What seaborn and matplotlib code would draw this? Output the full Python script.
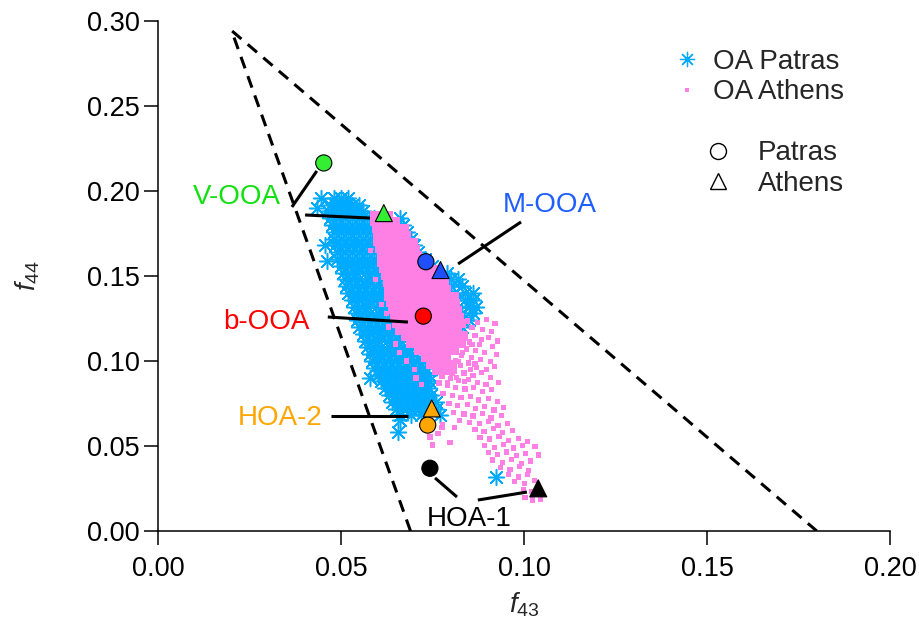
import numpy as np
import pandas as pd
import matplotlib
matplotlib.use("Agg")
import matplotlib.pyplot as plt
from matplotlib.lines import Line2D
from matplotlib.ticker import FormatStrFormatter, MultipleLocator
import seaborn as sns

# ---------------- data ----------------
# OA Patras (blue asterisks): f44 levels and the f43 values on each level
patras_levels = [0.196, 0.192, 0.188, 0.184, 0.180, 0.176, 0.172, 0.168, 0.164, 0.160,
                 0.156, 0.152, 0.148, 0.144, 0.140, 0.136, 0.132, 0.128, 0.124, 0.120,
                 0.116, 0.112, 0.108, 0.104, 0.100, 0.096, 0.092, 0.088, 0.084, 0.080,
                 0.076, 0.072, 0.068]
patras_f43_by_level = [
    [0.0445, 0.048, 0.050, 0.052],
    [0.047, 0.049, 0.051, 0.053, 0.055],
    [0.0465, 0.048, 0.050, 0.052, 0.054, 0.056],
    [0.047, 0.049, 0.051, 0.053, 0.055, 0.057, 0.059, 0.062, 0.066],
    [0.0475, 0.049, 0.051, 0.053, 0.055, 0.057, 0.059, 0.062, 0.065, 0.067],
    [0.048, 0.050, 0.052, 0.054, 0.056, 0.058, 0.061, 0.065, 0.068],
    [0.048, 0.050, 0.052, 0.054, 0.056, 0.058, 0.061, 0.065, 0.069],
    [0.0485, 0.0505, 0.0525, 0.0545, 0.0565, 0.0585, 0.062, 0.066, 0.070],
    [0.049, 0.051, 0.053, 0.055, 0.057, 0.059, 0.063, 0.067, 0.071],
    [0.049, 0.051, 0.053, 0.055, 0.057, 0.059, 0.063, 0.068, 0.073],
    [0.050, 0.052, 0.054, 0.056, 0.058, 0.060, 0.064, 0.069, 0.075],
    [0.0505, 0.0525, 0.0545, 0.0565, 0.0585, 0.0605, 0.065, 0.070, 0.075, 0.079],
    [0.051, 0.053, 0.055, 0.057, 0.059, 0.061, 0.066, 0.071, 0.076, 0.080, 0.082],
    [0.0515, 0.0535, 0.0555, 0.0575, 0.0595, 0.0615, 0.066, 0.071, 0.076, 0.080, 0.083],
    [0.052, 0.054, 0.056, 0.058, 0.060, 0.062, 0.067, 0.072, 0.077, 0.081, 0.084, 0.086],
    [0.053, 0.055, 0.057, 0.059, 0.061, 0.063, 0.067, 0.072, 0.077, 0.081, 0.084, 0.086],
    [0.0535, 0.0555, 0.0575, 0.0595, 0.0615, 0.0635, 0.068, 0.073, 0.078, 0.082, 0.085, 0.087],
    [0.054, 0.056, 0.058, 0.060, 0.062, 0.064, 0.069, 0.074, 0.079, 0.083, 0.086],
    [0.0545, 0.0565, 0.0585, 0.0605, 0.0625, 0.0645, 0.069, 0.074, 0.079, 0.083, 0.085],
    [0.055, 0.057, 0.059, 0.061, 0.063, 0.065, 0.070, 0.075, 0.080, 0.083],
    [0.056, 0.058, 0.060, 0.062, 0.064, 0.066, 0.071, 0.076, 0.080],
    [0.0565, 0.0585, 0.0605, 0.0625, 0.0645, 0.0665, 0.0685, 0.072, 0.077],
    [0.057, 0.059, 0.061, 0.063, 0.065, 0.067, 0.069, 0.073, 0.077],
    [0.058, 0.060, 0.062, 0.064, 0.066, 0.068, 0.070, 0.074],
    [0.0585, 0.0605, 0.0625, 0.0645, 0.0665, 0.0685, 0.0705, 0.0725],
    [0.059, 0.061, 0.063, 0.065, 0.067, 0.069, 0.071, 0.073],
    [0.060, 0.062, 0.064, 0.066, 0.068, 0.070, 0.072, 0.074],
    [0.061, 0.063, 0.065, 0.067, 0.069, 0.071, 0.073, 0.074],
    [0.062, 0.064, 0.066, 0.068, 0.070, 0.072, 0.074],
    [0.063, 0.065, 0.067, 0.069, 0.071, 0.073, 0.0745],
    [0.064, 0.066, 0.068, 0.070, 0.072, 0.074, 0.076],
    [0.065, 0.067, 0.069, 0.071, 0.073, 0.076],
    [0.066, 0.069, 0.072, 0.077],
]
patras_extra_f43 = [0.0434, 0.0455, 0.0462, 0.0579, 0.0656, 0.0660, 0.0923]
patras_extra_f44 = [0.190, 0.168, 0.159, 0.090, 0.058, 0.065, 0.0318]

# OA Athens (pink squares): dense core, levels with their f43 values
athens_core_levels = [0.186, 0.182, 0.178, 0.174, 0.170, 0.166, 0.162, 0.158, 0.154, 0.150,
                      0.146, 0.142, 0.138, 0.134, 0.130, 0.126, 0.122, 0.118, 0.114, 0.110,
                      0.106, 0.102, 0.098, 0.094]
athens_core_f43_by_level = [
    [0.059, 0.061, 0.063],
    [0.059, 0.061, 0.063, 0.065],
    [0.0595, 0.0615, 0.0635, 0.0655, 0.0675],
    [0.060, 0.062, 0.064, 0.066, 0.068],
    [0.060, 0.062, 0.064, 0.066, 0.068, 0.070],
    [0.0605, 0.0625, 0.0645, 0.0665, 0.0685, 0.0705],
    [0.061, 0.063, 0.065, 0.067, 0.069, 0.071],
    [0.061, 0.063, 0.065, 0.067, 0.069, 0.071, 0.073],
    [0.0615, 0.0635, 0.0655, 0.0675, 0.0695, 0.0715, 0.0735, 0.0755],
    [0.062, 0.064, 0.066, 0.068, 0.070, 0.072, 0.074, 0.076],
    [0.0625, 0.0645, 0.0665, 0.0685, 0.0705, 0.0725, 0.0745, 0.0765, 0.0785],
    [0.063, 0.065, 0.067, 0.069, 0.071, 0.073, 0.075, 0.077, 0.079],
    [0.063, 0.065, 0.067, 0.069, 0.071, 0.073, 0.075, 0.077, 0.079, 0.081],
    [0.0635, 0.0655, 0.0675, 0.0695, 0.0715, 0.0735, 0.0755, 0.0775, 0.0795, 0.0815],
    [0.064, 0.066, 0.068, 0.070, 0.072, 0.074, 0.076, 0.078, 0.080, 0.082],
    [0.0645, 0.0665, 0.0685, 0.0705, 0.0725, 0.0745, 0.0765, 0.0785, 0.0805, 0.0825],
    [0.065, 0.067, 0.069, 0.071, 0.073, 0.075, 0.077, 0.079, 0.081, 0.083],
    [0.066, 0.068, 0.070, 0.072, 0.074, 0.076, 0.078, 0.080, 0.082],
    [0.0675, 0.0695, 0.0715, 0.0735, 0.0755, 0.0775, 0.0795, 0.0815, 0.0835],
    [0.069, 0.071, 0.073, 0.075, 0.077, 0.079, 0.081, 0.083],
    [0.071, 0.073, 0.075, 0.077, 0.079, 0.081],
    [0.073, 0.075, 0.077, 0.079],
    [0.0745, 0.0765, 0.0785, 0.0805],
    [0.076, 0.078, 0.080],
]
# OA Athens: scattered points around the core and along the tail
athens_tail_f43 = [
    0.0845, 0.0872, 0.0898, 0.0921, 0.0858, 0.0887, 0.0912, 0.0839, 0.0866, 0.0903, 0.0928,
    0.0851, 0.0878, 0.0914, 0.0842, 0.0867, 0.0893, 0.0925, 0.0829, 0.0857, 0.0881, 0.0909,
    0.0812, 0.0798, 0.0826, 0.0849, 0.0871, 0.0897, 0.0920, 0.0785, 0.0809, 0.0836, 0.0861,
    0.0884, 0.0908, 0.0776, 0.0799, 0.0822, 0.0848, 0.0873, 0.0896, 0.0930, 0.0768, 0.0790,
    0.0813, 0.0839, 0.0862, 0.0886, 0.0912,
    0.0779, 0.0805, 0.0828, 0.0853, 0.0876, 0.0902, 0.0927, 0.0795, 0.0819, 0.0845, 0.0868,
    0.0893, 0.0918, 0.0945, 0.0807, 0.0836, 0.0861, 0.0887, 0.0910, 0.0938, 0.0824, 0.0852,
    0.0878, 0.0903, 0.0929, 0.0955, 0.0778,
    0.0866, 0.0891, 0.0917, 0.0941, 0.0968, 0.0880, 0.0906, 0.0932, 0.0958, 0.0985, 0.1010,
    0.0893, 0.0919, 0.0945, 0.0971, 0.0996, 0.1030, 0.0902, 0.0928, 0.0953, 0.0979, 0.1004,
    0.1040, 0.0915, 0.0941, 0.0967, 0.0993, 0.1018, 0.0935, 0.0962, 0.0988, 0.1013,
    0.0958, 0.0985, 0.1010, 0.0975, 0.1002, 0.1028, 0.0998, 0.1022, 0.1003, 0.1024, 0.1045,
    0.0743, 0.0749, 0.0798, 0.0776, 0.0811, 0.0765,
    0.0580, 0.0595, 0.0610, 0.0625, 0.0630, 0.0660, 0.0650, 0.0680, 0.0700, 0.0705, 0.0720,
    0.0858, 0.0884, 0.0833, 0.0822, 0.0855, 0.0815, 0.0803, 0.0838, 0.0791, 0.0866,
]
athens_tail_f44 = [
    0.1235, 0.1228, 0.1242, 0.1221, 0.1196, 0.1183, 0.1172, 0.1162, 0.1150, 0.1139, 0.1118,
    0.1112, 0.1098, 0.1085, 0.1071, 0.1062, 0.1049, 0.1040, 0.1030, 0.1019, 0.1007, 0.0995,
    0.1005, 0.0985, 0.0974, 0.0988, 0.0962, 0.0951, 0.0968, 0.0950, 0.0938, 0.0929, 0.0917,
    0.0931, 0.0902, 0.0912, 0.0896, 0.0884, 0.0893, 0.0872, 0.0860, 0.0875, 0.0870, 0.0855,
    0.0846, 0.0835, 0.0843, 0.0821, 0.0834,
    0.0808, 0.0797, 0.0785, 0.0792, 0.0770, 0.0781, 0.0762, 0.0748, 0.0736, 0.0745, 0.0722,
    0.0733, 0.0712, 0.0725, 0.0695, 0.0688, 0.0676, 0.0690, 0.0665, 0.0678, 0.0648, 0.0640,
    0.0631, 0.0645, 0.0620, 0.0633, 0.0625,
    0.0598, 0.0586, 0.0601, 0.0578, 0.0590, 0.0552, 0.0541, 0.0556, 0.0533, 0.0546, 0.0528,
    0.0505, 0.0492, 0.0510, 0.0488, 0.0501, 0.0495, 0.0460, 0.0448, 0.0465, 0.0442, 0.0455,
    0.0447, 0.0418, 0.0405, 0.0421, 0.0398, 0.0412, 0.0375, 0.0362, 0.0378, 0.0356,
    0.0330, 0.0318, 0.0334, 0.0290, 0.0278, 0.0295, 0.0245, 0.0232, 0.0195, 0.0182, 0.0186,
    0.0553, 0.0506, 0.0520, 0.0610, 0.0610, 0.0575,
    0.165, 0.148, 0.133, 0.128, 0.120, 0.105, 0.110, 0.100, 0.095, 0.090, 0.086,
    0.1095, 0.1125, 0.1052, 0.0995, 0.0950, 0.0905, 0.0925, 0.0880, 0.0875, 0.0982,
]

# PMF factor profiles
patras_factors = ["V-OOA", "M-OOA", "b-OOA", "HOA-2", "HOA-1"]
patras_factor_f43 = [0.0453, 0.0732, 0.0725, 0.0737, 0.0743]
patras_factor_f44 = [0.2165, 0.1584, 0.1264, 0.0623, 0.0369]
athens_factors = ["V-OOA", "M-OOA", "HOA-2", "HOA-1"]
athens_factor_f43 = [0.0617, 0.0772, 0.0748, 0.1039]
athens_factor_f44 = [0.1870, 0.1535, 0.0721, 0.0251]

# triangle of Ng et al. (dashed)
triangle_f43 = [0.069, 0.0201, 0.180]
triangle_f44 = [0.0, 0.2944, 0.0]

# factor label positions and leader lines (annotation)
label_names = ["V-OOA", "M-OOA", "b-OOA", "HOA-2", "HOA-1"]
label_f43 = [0.0216, 0.1071, 0.0296, 0.0333, 0.0849]
label_f44 = [0.1965, 0.1918, 0.1229, 0.0665, 0.0070]
leader_lines = [
    ((0.0366, 0.0434), (0.1906, 0.2118)),
    ((0.0402, 0.0579), (0.1859, 0.1841)),
    ((0.0820, 0.0992), (0.1571, 0.1818)),
    ((0.0464, 0.0683), (0.1259, 0.1229)),
    ((0.0473, 0.0683), (0.0676, 0.0676)),
    ((0.0757, 0.0817), (0.0312, 0.0200)),
    ((0.0874, 0.1008), (0.0182, 0.0229)),
]

# ---------------- colours ----------------
BLUE = "#00AAFF"
PINK = "#FF80E4"
factor_colors = {"V-OOA": "#33EE33", "M-OOA": "#1F4FFF", "b-OOA": "#FF0000",
                 "HOA-2": "#FFA500", "HOA-1": "#000000"}
label_colors = {"V-OOA": "#11E011", "M-OOA": "#1F5FFF", "b-OOA": "#FF0000",
                "HOA-2": "#FFA500", "HOA-1": "#000000"}

# ---------------- build tables ----------------
def flatten(levels, by_level):
    xs, ys = [], []
    for lev, row in zip(levels, by_level):
        for v in row:
            xs.append(v)
            ys.append(lev)
    return xs, ys

px, py = flatten(patras_levels, patras_f43_by_level)
patras_df = pd.DataFrame({"f43": px + patras_extra_f43, "f44": py + patras_extra_f44})
cx, cy = flatten(athens_core_levels, athens_core_f43_by_level)
athens_core_df = pd.DataFrame({"f43": cx, "f44": cy})
athens_tail_df = pd.DataFrame({"f43": athens_tail_f43, "f44": athens_tail_f44})
pf_df = pd.DataFrame({"factor": patras_factors, "f43": patras_factor_f43, "f44": patras_factor_f44})
af_df = pd.DataFrame({"factor": athens_factors, "f43": athens_factor_f43, "f44": athens_factor_f44})

# ---------------- style ----------------
sns.set_style("ticks")
plt.rcParams["font.family"] = ["Liberation Sans", "DejaVu Sans"]
plt.rcParams["mathtext.fontset"] = "custom"
plt.rcParams["mathtext.rm"] = "Liberation Sans"
plt.rcParams["mathtext.it"] = "Liberation Sans:italic"

fig = plt.figure(figsize=(9.19, 6.35), dpi=100)
ax = fig.add_axes([0.1719, 0.1638, 0.9684 - 0.1719, 0.9669 - 0.1638])

# clouds
sns.scatterplot(data=patras_df, x="f43", y="f44", marker=(8, 2, 0), s=130,
                color=BLUE, linewidth=1.1, ax=ax, legend=False, zorder=2)
sns.scatterplot(data=athens_core_df, x="f43", y="f44", marker="s", s=36,
                color=PINK, edgecolor="none", linewidth=0, ax=ax, legend=False, zorder=3)
sns.scatterplot(data=athens_tail_df, x="f43", y="f44", marker="s", s=14,
                color=PINK, edgecolor="none", linewidth=0, ax=ax, legend=False, zorder=3)

# triangle
sns.lineplot(x=triangle_f43, y=triangle_f44, sort=False, estimator=None, color="black",
             linewidth=2.2, linestyle=(0, (4, 2.7)), ax=ax, zorder=4)

# leader lines
for (lx, ly) in leader_lines:
    ax.plot(lx, ly, color="black", linewidth=2.2, solid_capstyle="butt", zorder=5)

# factor markers
sns.scatterplot(data=pf_df, x="f43", y="f44", hue="factor", palette=factor_colors,
                marker="o", s=135, edgecolor="black", linewidth=0.8, ax=ax,
                legend=False, zorder=6)
sns.scatterplot(data=af_df, x="f43", y="f44", hue="factor", palette=factor_colors,
                marker="^", s=150, edgecolor="black", linewidth=0.8, ax=ax,
                legend=False, zorder=6)

# labels
for name, lx, ly in zip(label_names, label_f43, label_f44):
    ax.text(lx, ly, name, color=label_colors[name], fontsize=20,
            ha="center", va="center", zorder=7)

# axes
ax.set_xlim(0, 0.20)
ax.set_ylim(0, 0.30)
ax.xaxis.set_major_locator(MultipleLocator(0.05))
ax.yaxis.set_major_locator(MultipleLocator(0.05))
ax.xaxis.set_major_formatter(FormatStrFormatter("%.2f"))
ax.yaxis.set_major_formatter(FormatStrFormatter("%.2f"))
ax.tick_params(axis="both", direction="out", length=10, width=1.1,
               labelsize=19.5, color="black", labelcolor="black")
ax.tick_params(axis="x", pad=8)
ax.tick_params(axis="y", pad=3)
sns.despine(ax=ax)
for sp in ("left", "bottom"):
    ax.spines[sp].set_linewidth(1.1)
    ax.spines[sp].set_color("black")
ax.set_xlabel(r"$f_{43}$", fontsize=20)
ax.set_ylabel(r"$f_{44}$", fontsize=20)
ax.xaxis.set_label_coords(0.5, -0.117)
ax.yaxis.set_label_coords(-0.158, 0.5)

# legends
h1 = Line2D([], [], marker=(8, 2, 0), linestyle="none", color=BLUE, markersize=11,
            markeredgewidth=0.9)
h2 = Line2D([], [], marker="s", linestyle="none", color=PINK, markersize=3.2,
            markeredgewidth=0)
leg1 = ax.legend([h1, h2], ["OA Patras", "OA Athens"], loc="upper left",
                 bbox_to_anchor=(0.7033, 0.946), frameon=False, handlelength=1.0,
                 handletextpad=0.45, labelspacing=0.17, borderpad=0, borderaxespad=0,
                 fontsize=20)
ax.add_artist(leg1)
h3 = Line2D([], [], marker="o", linestyle="none", markerfacecolor="white",
            markeredgecolor="black", markersize=11.5, markeredgewidth=1.0)
h4 = Line2D([], [], marker="^", linestyle="none", markerfacecolor="white",
            markeredgecolor="black", markersize=12, markeredgewidth=1.0)
ax.legend([h3, h4], ["Patras", "Athens"], loc="upper left",
          bbox_to_anchor=(0.7456, 0.766), frameon=False, handlelength=1.0,
          handletextpad=0.95, labelspacing=0.17, borderpad=0, borderaxespad=0,
          fontsize=20)

fig.savefig("out.png", dpi=100)
